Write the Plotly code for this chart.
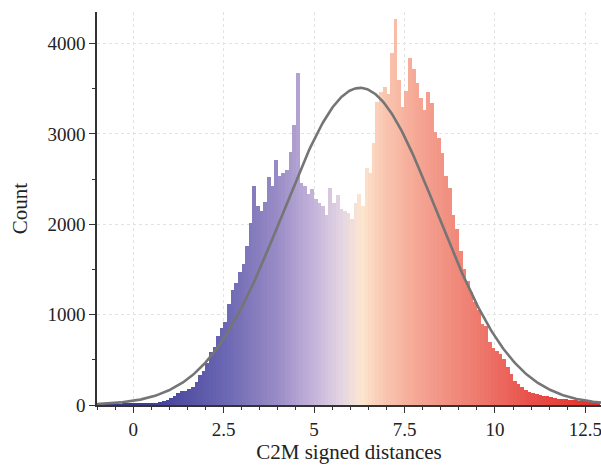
import numpy as np
import plotly.graph_objects as go

# ---- data ----
bin_width = 0.1
bin_centers = [round(-0.95 + 0.1 * i, 2) for i in range(139)]
counts = [
    8, 8, 9, 9, 10, 10, 11, 12, 13, 14,                 # -0.95 .. -0.05
    15, 16, 17, 18, 19,                                 # 0.05 .. 0.45
    22, 25, 32, 45, 60,                                 # 0.55 .. 0.95
    75, 95, 130, 150, 160, 175, 200, 260, 330, 380,     # 1.05 .. 1.95
    470, 590, 640, 760, 850, 920, 1120, 1270, 1350, 1470,   # 2.05 .. 2.95
    1560, 1760, 2020, 2420, 2200, 2150, 2250, 2520, 2420, 2710,  # 3.05 .. 3.95
    2540, 2570, 2600, 2800, 3100, 3680, 2460, 2420, 2340, 2390,  # 4.05 .. 4.95
    2280, 2240, 2200, 2100, 2400, 2240, 2320, 2170, 2150, 2130,  # 5.05 .. 5.95
    2060, 2240, 2340, 2200, 2620, 2570, 2900, 3350, 3460, 3520,  # 6.05 .. 6.95
    3440, 3900, 4270, 3600, 3300, 3480, 3840, 3720, 3560, 3400,  # 7.05 .. 7.95
    3270, 3460, 3340, 3020, 2960, 2790, 2530, 2400, 2100, 1950,  # 8.05 .. 8.95
    1700, 1500, 1370, 1250, 1140, 1050, 900, 880, 700, 630,      # 9.05 .. 9.95
    600, 570, 510, 420, 340, 270, 230, 195, 170, 140,            # 10.05 .. 10.95
    130, 120, 115, 105, 100, 90, 80, 72, 68, 62,                 # 11.05 .. 11.95
    58, 55, 50, 47, 42, 40, 36, 33, 30,                          # 12.05 .. 12.85
]

# fitted normal curve parameters
fit_mean = 6.27
fit_sigma = 2.13
fit_peak = 3510

x_ticks = [0, 2.5, 5, 7.5, 10, 12.5]
x_ticklabels = ["0", "2.5", "5", "7.5", "10", "12.5"]
y_ticks = [0, 1000, 2000, 3000, 4000]

# colour ramp along distance axis (x position -> colour)
ramp_x = [-1.0, 0.5, 2.5, 4.0, 5.0, 5.8, 6.3, 7.0, 8.0, 9.5, 11.0, 12.93]
ramp_c = ["#38388f", "#3f3f97", "#6a66b2", "#9a8cc6", "#c4b4da", "#e6d6e2",
          "#fce6cf", "#f9c4ae", "#f4a291", "#ee7b6e", "#e8504a", "#e32b27"]

# ---- figure ----
XMIN, XMAX = -1.0, 12.93
cscale = [[(xv - XMIN) / (XMAX - XMIN), c] for xv, c in zip(ramp_x, ramp_c)]

fig = go.Figure()
fig.add_trace(go.Bar(
    x=bin_centers, y=counts, width=bin_width * 1.08,
    marker=dict(color=bin_centers, colorscale=cscale, cmin=XMIN, cmax=XMAX,
                line=dict(width=0)),
    hoverinfo="skip",
))

xc = np.linspace(XMIN, XMAX, 400)
yc = fit_peak * np.exp(-((xc - fit_mean) ** 2) / (2 * fit_sigma ** 2))
fig.add_trace(go.Scatter(x=xc, y=yc, mode="lines",
                         line=dict(color="#757575", width=2.6), hoverinfo="skip"))

font_family = "Liberation Serif, Times New Roman, serif"
fig.update_layout(
    width=601, height=466,
    margin=dict(l=97, r=0, t=12, b=61),
    plot_bgcolor="white", paper_bgcolor="white",
    showlegend=False, bargap=0,
    font=dict(family=font_family, size=19, color="#222222"),
)
fig.update_xaxes(
    range=[XMIN, XMAX], tickvals=x_ticks, ticktext=x_ticklabels,
    ticklabeloverflow="allow",
    showline=True, linecolor="#333333", linewidth=1.5,
    ticks="outside", ticklen=6, tickcolor="#333333", tickwidth=1.2,
    minor=dict(dtick=0.5, tick0=0, ticks="outside", ticklen=3, tickcolor="#333333", showgrid=False),
    showgrid=True, gridcolor="#e2e2e2", gridwidth=1, griddash="dot",
    zeroline=False,
    title=dict(text="C2M signed distances", font=dict(size=21), standoff=6),
    tickfont=dict(size=19),
)
fig.update_yaxes(
    range=[0, 4350], tickvals=y_ticks,
    showline=True, linecolor="#333333", linewidth=1.5,
    ticks="outside", ticklen=6, tickcolor="#333333", tickwidth=1.2,
    minor=dict(dtick=500, tick0=0, ticks="outside", ticklen=3, tickcolor="#333333", showgrid=False),
    showgrid=True, gridcolor="#e2e2e2", gridwidth=1, griddash="dot",
    zeroline=False,
    title=dict(text="Count", font=dict(size=21), standoff=14),
    tickfont=dict(size=19),
)

fig.write_html("out.html")
